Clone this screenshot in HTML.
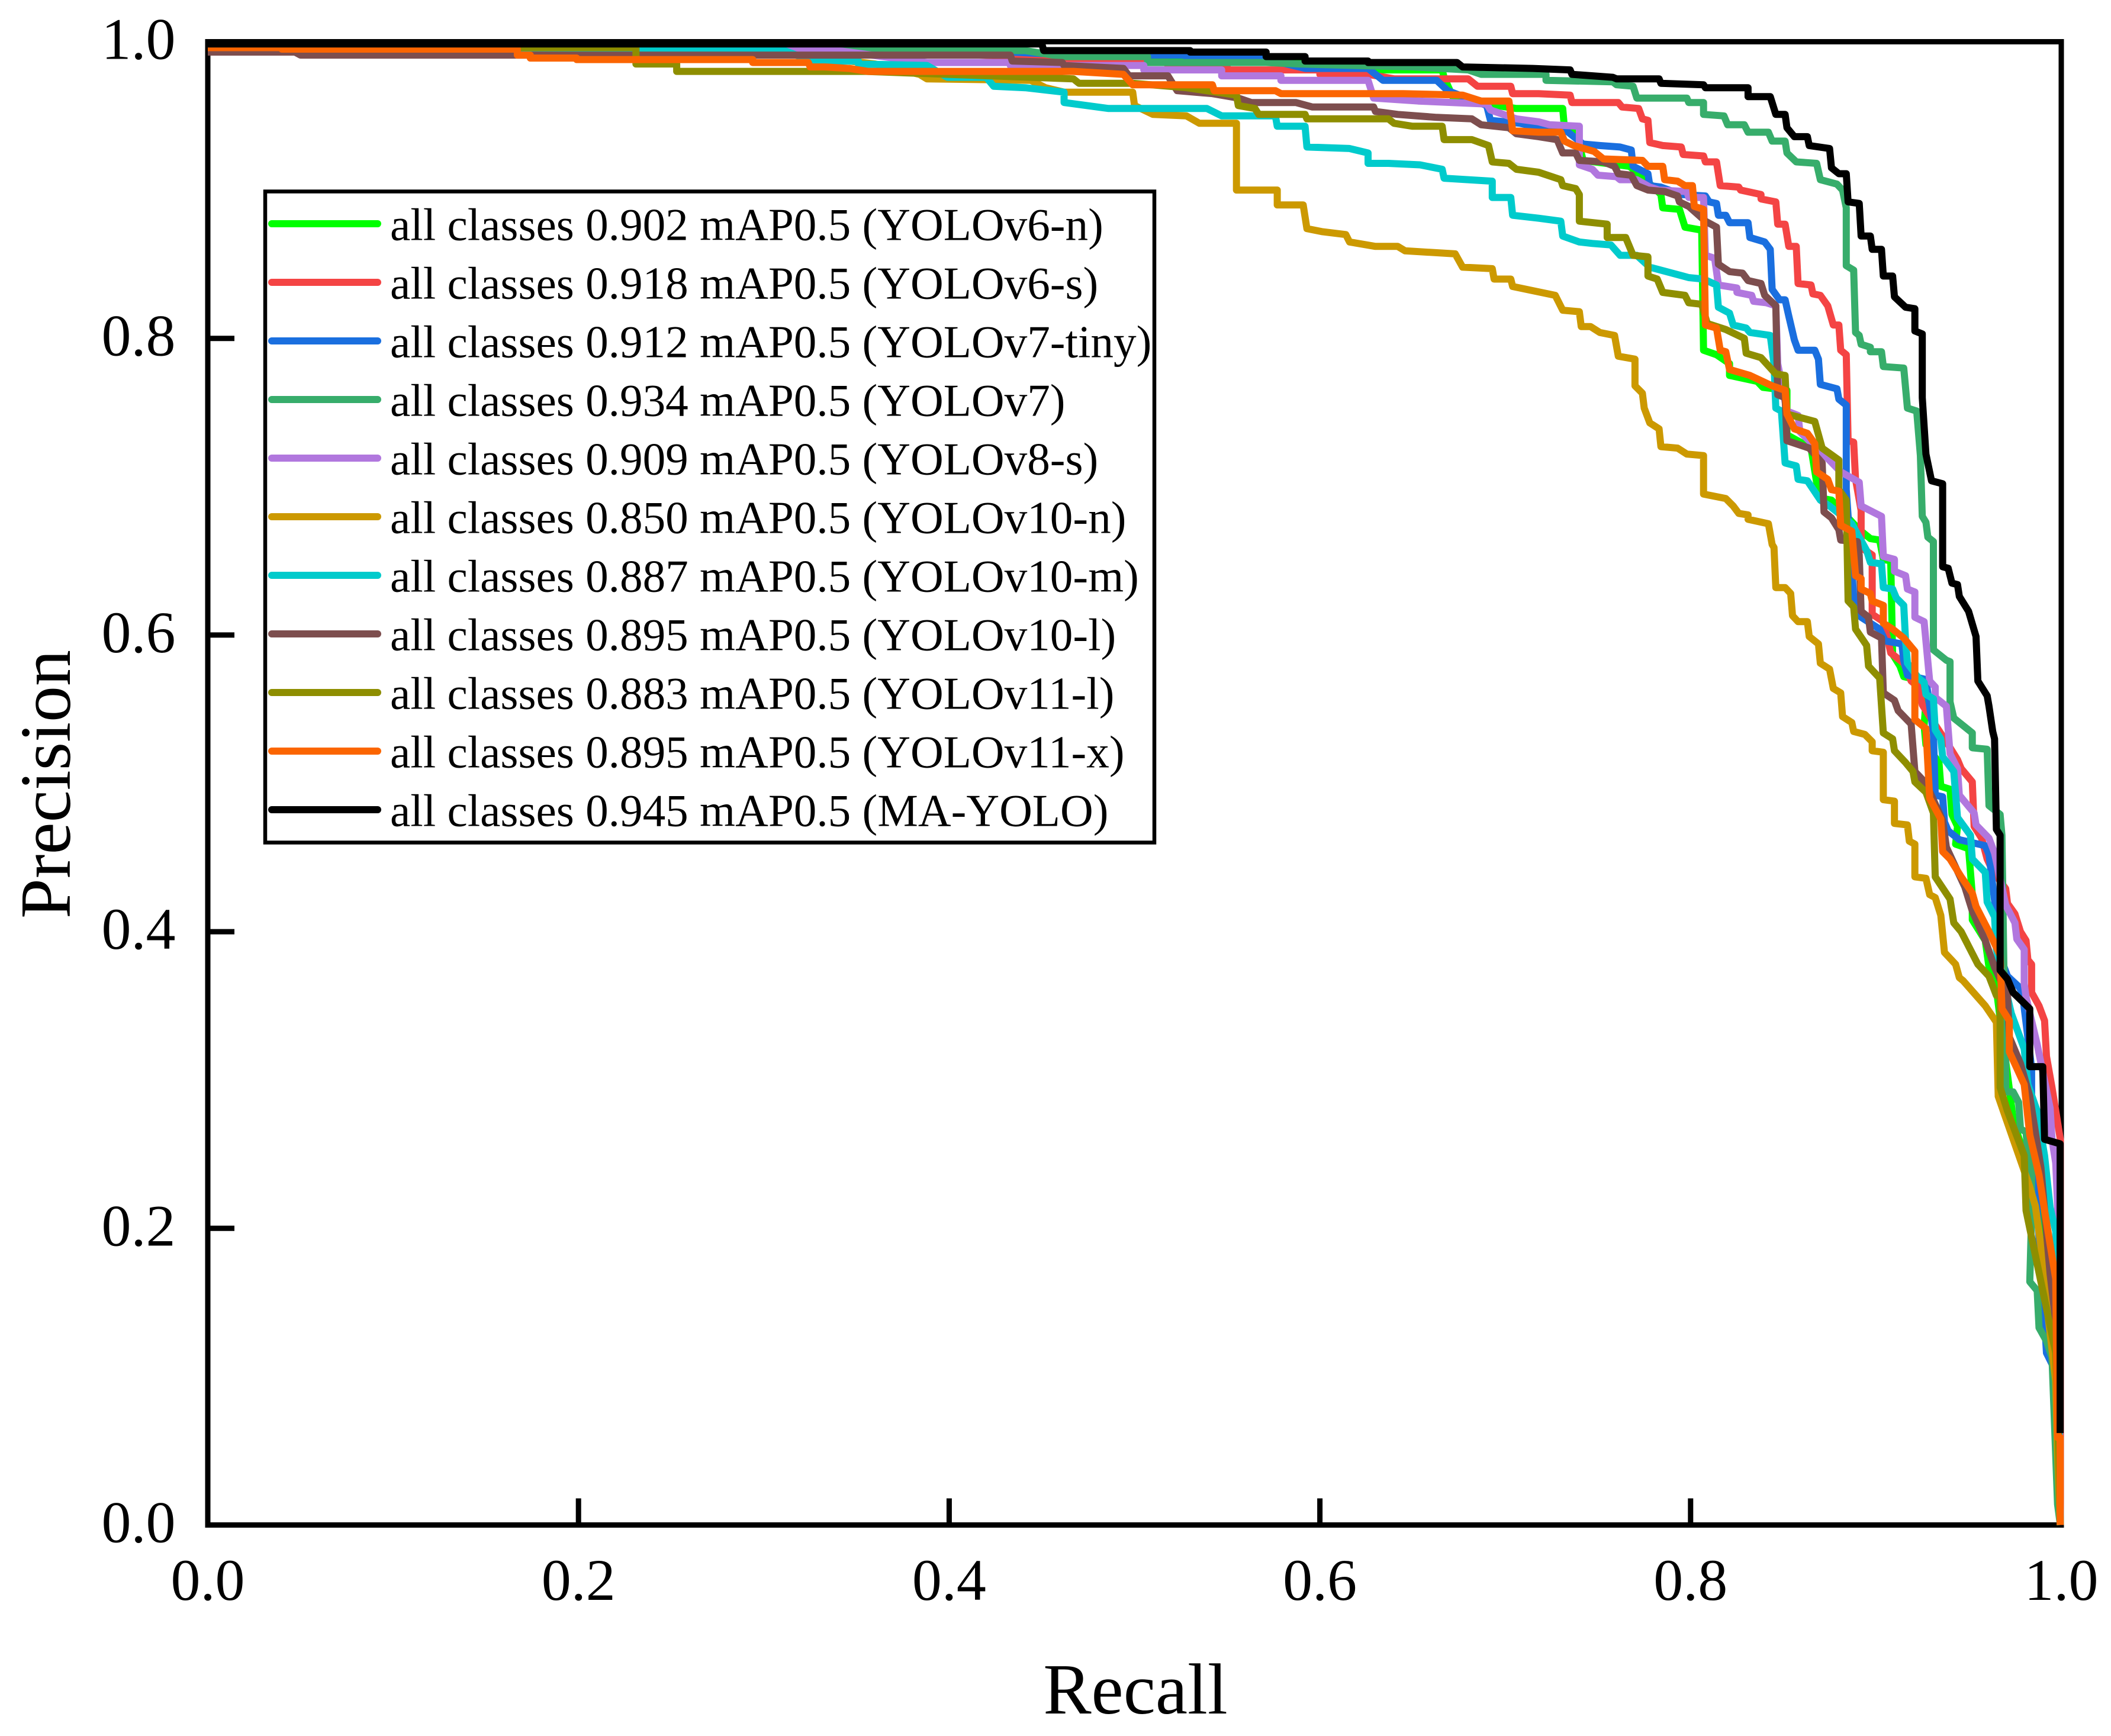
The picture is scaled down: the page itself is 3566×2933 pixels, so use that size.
<!DOCTYPE html>
<html lang="en">
<head>
<meta charset="utf-8">
<title>Precision-Recall curves</title>
<style>
html,body{margin:0;padding:0;background:#fff;width:3566px;height:2933px;overflow:hidden}
svg{display:block}
text{font-family:"Liberation Serif",serif;fill:#000}
.leg{font-size:77.2px}
.tick{font-size:100px}
.title{font-size:122px}
</style>
</head>
<body>
<svg id="chart" xmlns="http://www.w3.org/2000/svg" width="3566" height="2933" viewBox="0 0 3566 2933">
  <rect x="0" y="0" width="3566" height="2933" fill="#fff"/>
  <g id="ticks"></g>
  <rect x="351" y="70.5" width="3131" height="2506" fill="none" stroke="#000" stroke-width="9"/>
  <g id="series"></g>
  <g id="ticklabels"></g>
  <text class="title" x="1918" y="2895" text-anchor="middle">Recall</text>
  <text class="title" transform="translate(118 1325) rotate(-90)" text-anchor="middle">Precision</text>
  <g>
    <rect x="448" y="323.5" width="1502" height="1100" fill="#fff" stroke="#000" stroke-width="6.5"/>
    <g><line x1="459" x2="638" y1="378" y2="378" stroke="#00FF00" stroke-width="12" stroke-linecap="round"/><text class="leg" x="659" y="405.5">all classes 0.902 mAP0.5 (YOLOv6-n)</text></g>
    <g><line x1="459" x2="638" y1="477" y2="477" stroke="#F44444" stroke-width="12" stroke-linecap="round"/><text class="leg" x="659" y="504.5">all classes 0.918 mAP0.5 (YOLOv6-s)</text></g>
    <g><line x1="459" x2="638" y1="576" y2="576" stroke="#1A6FDF" stroke-width="12" stroke-linecap="round"/><text class="leg" x="659" y="603.5">all classes 0.912 mAP0.5 (YOLOv7-tiny)</text></g>
    <g><line x1="459" x2="638" y1="675" y2="675" stroke="#37AD6B" stroke-width="12" stroke-linecap="round"/><text class="leg" x="659" y="702.5">all classes 0.934 mAP0.5 (YOLOv7)</text></g>
    <g><line x1="459" x2="638" y1="774" y2="774" stroke="#B177DE" stroke-width="12" stroke-linecap="round"/><text class="leg" x="659" y="801.5">all classes 0.909 mAP0.5 (YOLOv8-s)</text></g>
    <g><line x1="459" x2="638" y1="873" y2="873" stroke="#CC9900" stroke-width="12" stroke-linecap="round"/><text class="leg" x="659" y="900.5">all classes 0.850 mAP0.5 (YOLOv10-n)</text></g>
    <g><line x1="459" x2="638" y1="972" y2="972" stroke="#00CBCC" stroke-width="12" stroke-linecap="round"/><text class="leg" x="659" y="999.5">all classes 0.887 mAP0.5 (YOLOv10-m)</text></g>
    <g><line x1="459" x2="638" y1="1071" y2="1071" stroke="#7D4E4E" stroke-width="12" stroke-linecap="round"/><text class="leg" x="659" y="1098.5">all classes 0.895 mAP0.5 (YOLOv10-l)</text></g>
    <g><line x1="459" x2="638" y1="1170" y2="1170" stroke="#8E8E00" stroke-width="12" stroke-linecap="round"/><text class="leg" x="659" y="1197.5">all classes 0.883 mAP0.5 (YOLOv11-l)</text></g>
    <g><line x1="459" x2="638" y1="1269" y2="1269" stroke="#FB6501" stroke-width="12" stroke-linecap="round"/><text class="leg" x="659" y="1296.5">all classes 0.895 mAP0.5 (YOLOv11-x)</text></g>
    <g><line x1="459" x2="638" y1="1368" y2="1368" stroke="#000" stroke-width="12" stroke-linecap="round"/><text class="leg" x="659" y="1395.5">all classes 0.945 mAP0.5 (MA-YOLO)</text></g>
  </g>
</svg>
<script>
const tickValues = [0, 0.2, 0.4, 0.6, 0.8, 1];
const tickLabels = ["0.0", "0.2", "0.4", "0.6", "0.8", "1.0"];

const recallV6n = [0,.124,.155,.31,.357,.383,.48,.55,.60,.616,.629,.666,.667,.672,.69,.706,.731,.732,.738,.742,.767,.774,.784,.785,.794,.797,.806,.807,.814,.821,.821,.836,.839,.852,.852,.865,.868,.871,.876,.891,.897,.902,.904,.908,.909,.913,.915,.922,.927,.926,.927,.934,.935,.940,.941,.944,.943,.950,.952,.952,.959,.961,.965,.973,.974,.986,.992,.997,.998,.9995];
const precisionV6n = [.998,.998,.998,.996,.994,.994,.990,.987,.985,.983,.981,.981,.976,.962,.958,.955,.955,.941,.941,.920,.916,.909,.897,.888,.887,.875,.873,.792,.789,.783,.775,.771,.767,.765,.735,.726,.703,.692,.691,.671,.665,.664,.651,.650,.587,.579,.572,.570,.555,.539,.526,.514,.498,.496,.479,.471,.459,.456,.425,.408,.394,.376,.361,.284,.273,.226,.193,.156,.10,0];

const recallV6s = [0,.04,.057,.167,.223,.223,.253,.253,.306,.338,.358,.36,.436,.46,.46,.518,.518,.55,.55,.6,.6,.626,.64,.68,.685,.703,.704,.718,.735,.736,.761,.763,.772,.774,.777,.778,.785,.795,.796,.807,.808,.814,.816,.826,.827,.838,.838,.846,.847,.851,.853,.857,.858,.865,.866,.870,.874,.877,.880,.881,.884,.885,.888,.889,.892,.892,.892,.898,.898,.898,.904,.906,.908,.915,.919,.923,.925,.928,.938,.944,.946,.952,.953,.957,.960,.963,.970,.971,.975,.978,.981,.982,.984,.984,.988,.991,.992,.995,.9995,.9995];
const precisionV6s = [.997,.997,.998,.994,.994,.993,.993,.992,.992,.994,.994,.994,.990,.990,.986,.986,.983,.983,.981,.981,.978,.978,.975,.975,.970,.970,.965,.965,.964,.959,.959,.956,.955,.948,.947,.932,.930,.929,.924,.923,.919,.919,.903,.902,.900,.897,.894,.892,.877,.877,.862,.862,.837,.836,.830,.829,.822,.809,.809,.792,.789,.731,.730,.705,.684,.669,.659,.654,.628,.614,.609,.599,.588,.581,.569,.565,.553,.547,.528,.516,.510,.501,.471,.463,.449,.441,.429,.419,.412,.400,.394,.381,.378,.359,.350,.340,.316,.295,.26,0];

const recallV7t = [0,.2,.383,.417,.45,.505,.528,.528,.569,.592,.626,.634,.663,.669,.690,.692,.708,.718,.732,.742,.751,.762,.768,.769,.777,.778,.784,.795,.808,.810,.814,.815,.819,.821,.831,.832,.840,.843,.844,.848,.851,.853,.856,.858,.867,.869,.870,.879,.880,.884,.884,.887,.888,.892,.902,.905,.914,.915,.917,.927,.931,.932,.936,.937,.939,.945,.959,.961,.968,.971,.977,.979,.984,.984,.983,.986,.991,.992,.996,.9995];
const precisionV7t = [.998,.997,.994,.994,.992,.991,.991,.989,.989,.982,.982,.974,.974,.967,.957,.947,.945,.942,.941,.931,.930,.929,.927,.916,.911,.903,.902,.897,.896,.892,.891,.883,.883,.878,.878,.868,.865,.860,.833,.826,.826,.815,.799,.792,.792,.786,.769,.766,.759,.755,.698,.644,.626,.612,.604,.596,.594,.583,.573,.570,.534,.492,.491,.474,.468,.462,.458,.452,.380,.370,.363,.359,.308,.289,.255,.231,.137,.116,.106,0];

const recallV7 = [0,.2,.35,.42,.441,.461,.507,.507,.571,.589,.65,.68,.687,.722,.722,.758,.760,.769,.771,.798,.799,.807,.807,.818,.820,.829,.831,.842,.844,.851,.852,.857,.868,.870,.879,.882,.884,.884,.888,.889,.891,.892,.897,.897,.903,.904,.915,.917,.922,.924,.925,.927,.928,.931,.931,.938,.940,.940,.942,.952,.952,.960,.961,.967,.968,.969,.970,.970,.974,.977,.978,.981,.982,.984,.984,.983,.987,.988,.992,.995,.998,.9995];
const precisionV7 = [.998,.997,.996,.994,.994,.990,.990,.986,.986,.985,.983,.981,.978,.978,.974,.973,.971,.970,.962,.962,.959,.959,.951,.950,.944,.944,.939,.939,.933,.933,.925,.919,.918,.907,.904,.900,.888,.849,.846,.804,.802,.796,.794,.791,.791,.781,.780,.753,.751,.721,.680,.676,.666,.663,.590,.583,.582,.555,.544,.534,.524,.523,.485,.479,.465,.380,.319,.292,.292,.285,.267,.265,.249,.246,.210,.164,.158,.133,.124,.113,.014,0];

const recallV8s = [0,.2,.309,.34,.388,.433,.433,.505,.505,.547,.547,.579,.579,.626,.629,.653,.690,.692,.706,.718,.724,.740,.740,.747,.750,.760,.762,.771,.778,.783,.798,.799,.807,.808,.813,.815,.825,.825,.833,.834,.841,.846,.847,.852,.858,.859,.874,.881,.891,.892,.903,.904,.910,.910,.916,.917,.921,.921,.926,.929,.932,.932,.938,.940,.944,.945,.953,.954,.961,.964,.970,.975,.976,.980,.980,.981,.987,.994,.995,.997,.998,.9995];
const precisionV8s = [.997,.996,.994,.994,.986,.986,.984,.984,.981,.981,.977,.977,.974,.974,.962,.960,.958,.954,.948,.946,.944,.943,.917,.914,.910,.909,.907,.907,.902,.900,.899,.895,.895,.856,.854,.836,.834,.831,.829,.825,.824,.822,.783,.751,.748,.737,.719,.710,.703,.687,.680,.653,.651,.643,.640,.631,.629,.612,.609,.569,.565,.558,.552,.520,.510,.492,.480,.472,.463,.453,.418,.406,.395,.388,.365,.356,.324,.281,.260,.244,.217,0];

const recallV10n = [0,.189,.23,.253,.31,.36,.384,.388,.444,.452,.462,.499,.5,.510,.528,.535,.555,.555,.577,.577,.591,.593,.601,.614,.616,.630,.642,.646,.673,.677,.693,.694,.703,.704,.727,.731,.740,.741,.746,.751,.759,.761,.770,.770,.774,.775,.778,.783,.784,.793,.798,.807,.807,.819,.823,.826,.831,.831,.842,.844,.845,.846,.851,.854,.855,.858,.863,.864,.869,.870,.875,.877,.881,.882,.887,.888,.894,.898,.898,.904,.904,.910,.910,.917,.918,.921,.921,.927,.929,.932,.935,.937,.943,.945,.947,.959,.965,.966,.971,.983,.986,.989,.991,.997,.998,.9995];
const precisionV10n = [.997,.997,.996,.996,.992,.985,.978,.975,.974,.969,.966,.966,.957,.951,.950,.945,.945,.900,.900,.890,.890,.874,.872,.870,.865,.862,.862,.859,.857,.848,.847,.840,.840,.835,.829,.819,.818,.808,.808,.804,.802,.788,.786,.768,.763,.753,.743,.739,.727,.726,.722,.721,.695,.692,.687,.682,.681,.678,.675,.661,.659,.632,.632,.628,.613,.609,.609,.599,.594,.581,.577,.564,.561,.545,.541,.535,.533,.528,.522,.521,.489,.488,.473,.472,.461,.459,.437,.436,.425,.423,.411,.386,.378,.369,.367,.350,.339,.289,.271,.228,.215,.188,.161,.097,.049,0];

const recallV10m = [0,.15,.262,.309,.326,.351,.351,.388,.399,.42,.424,.441,.462,.462,.486,.539,.547,.576,.577,.592,.593,.616,.626,.626,.637,.654,.666,.667,.693,.693,.703,.704,.718,.730,.731,.740,.747,.757,.762,.771,.778,.787,.796,.799,.807,.814,.815,.821,.823,.830,.832,.843,.845,.846,.849,.851,.857,.858,.863,.870,.875,.887,.891,.895,.897,.903,.904,.909,.911,.915,.916,.917,.923,.926,.927,.931,.932,.935,.936,.942,.944,.951,.952,.959,.960,.964,.965,.973,.980,.982,.987,.991,.994,.997,.998,.9995];
const precisionV10m = [.996,.996,.995,.995,.987,.987,.985,.984,.976,.976,.970,.969,.966,.959,.955,.955,.950,.950,.943,.943,.929,.928,.925,.918,.918,.917,.914,.908,.906,.895,.895,.883,.881,.879,.869,.865,.864,.863,.856,.856,.848,.845,.842,.841,.840,.836,.821,.817,.809,.807,.804,.802,.783,.753,.751,.716,.714,.705,.704,.691,.687,.675,.666,.657,.649,.648,.632,.631,.625,.620,.596,.581,.571,.568,.560,.557,.536,.530,.518,.508,.477,.465,.449,.440,.420,.410,.388,.345,.321,.297,.279,.249,.214,.198,.156,0];

const recallV10l = [0,.047,.05,.294,.302,.433,.434,.461,.462,.494,.497,.518,.523,.542,.556,.563,.587,.596,.629,.630,.642,.663,.682,.687,.702,.706,.718,.728,.731,.738,.740,.753,.759,.761,.768,.771,.777,.786,.793,.794,.799,.808,.814,.815,.821,.828,.831,.838,.840,.846,.847,.851,.852,.864,.871,.872,.876,.880,.881,.890,.891,.892,.896,.897,.903,.904,.910,.912,.919,.921,.927,.936,.938,.948,.952,.959,.964,.971,.972,.978,.983,.989,.994,.997,.998,.9995];
const precisionV10l = [.993,.993,.991,.991,.991,.991,.987,.986,.984,.982,.977,.977,.967,.965,.962,.959,.959,.956,.956,.953,.951,.949,.948,.944,.942,.938,.936,.934,.925,.925,.920,.919,.916,.911,.910,.903,.900,.899,.896,.892,.889,.879,.875,.850,.845,.844,.839,.837,.829,.822,.762,.760,.731,.726,.716,.683,.679,.671,.664,.663,.654,.616,.612,.602,.598,.561,.556,.549,.540,.508,.500,.475,.457,.430,.414,.394,.376,.357,.329,.311,.289,.241,.169,.137,.10,0];

const recallV11l = [0,.189,.231,.231,.253,.253,.355,.467,.470,.499,.528,.555,.556,.565,.567,.592,.593,.637,.640,.650,.666,.667,.682,.691,.693,.702,.706,.718,.730,.731,.738,.740,.740,.755,.755,.765,.769,.777,.777,.782,.785,.797,.799,.806,.809,.819,.829,.830,.838,.846,.851,.852,.867,.871,.880,.880,.884,.885,.888,.889,.895,.896,.902,.904,.909,.910,.916,.920,.921,.927,.931,.932,.940,.942,.946,.955,.961,.965,.967,.967,.971,.980,.981,.986,.997,.998,.9995];
const precisionV11l = [.996,.996,.996,.985,.985,.980,.980,.975,.972,.972,.969,.964,.957,.955,.951,.951,.948,.948,.945,.943,.943,.934,.934,.930,.919,.918,.914,.912,.907,.903,.901,.897,.879,.877,.868,.868,.856,.855,.842,.840,.831,.829,.824,.823,.810,.806,.800,.790,.787,.776,.775,.749,.744,.726,.718,.698,.691,.623,.619,.604,.593,.579,.571,.534,.530,.522,.514,.508,.501,.494,.480,.437,.422,.406,.400,.378,.370,.357,.356,.295,.279,.249,.212,.182,.116,.076,0];

const recallV11x = [0,.04,.04,.167,.167,.174,.174,.199,.199,.294,.294,.324,.325,.333,.346,.356,.467,.494,.499,.542,.543,.576,.579,.645,.677,.687,.702,.704,.718,.730,.732,.737,.748,.753,.774,.777,.785,.786,.793,.797,.801,.802,.807,.808,.814,.816,.819,.821,.832,.844,.851,.852,.856,.863,.867,.868,.874,.876,.880,.881,.887,.889,.892,.892,.897,.898,.904,.904,.909,.915,.921,.921,.927,.929,.935,.936,.940,.946,.952,.954,.961,.967,.968,.972,.972,.980,.983,.988,.991,.997,.998,.9994,.9994];
const precisionV11x = [.996,.996,.995,.995,.991,.991,.989,.989,.988,.988,.986,.986,.983,.983,.982,.980,.980,.978,.971,.971,.967,.967,.965,.965,.964,.960,.960,.940,.939,.939,.933,.930,.926,.921,.920,.916,.916,.907,.906,.903,.903,.889,.887,.809,.807,.792,.791,.779,.775,.768,.765,.749,.739,.736,.729,.710,.705,.698,.697,.674,.670,.640,.638,.631,.628,.623,.620,.608,.604,.598,.589,.543,.537,.490,.476,.454,.449,.437,.426,.417,.400,.384,.348,.340,.319,.297,.263,.236,.212,.166,.059,.059,0];

const recallMA = [0,.45,.451,.53,.53,.571,.571,.592,.592,.626,.626,.674,.677,.715,.735,.736,.758,.760,.783,.784,.807,.808,.831,.831,.843,.846,.851,.852,.856,.863,.864,.875,.876,.880,.884,.885,.891,.892,.897,.898,.903,.904,.909,.910,.916,.921,.921,.925,.925,.927,.930,.936,.936,.939,.941,.944,.945,.950,.954,.955,.960,.961,.963,.964,.965,.967,.967,.971,.974,.979,.983,.983,.990,.991,.9994,.9994];
const precisionMA = [.9985,.9985,.994,.994,.993,.993,.990,.990,.987,.987,.986,.986,.983,.982,.981,.978,.976,.975,.975,.972,.971,.969,.969,.963,.963,.951,.951,.942,.936,.936,.930,.928,.915,.911,.911,.892,.891,.869,.869,.860,.860,.842,.842,.828,.821,.820,.805,.803,.760,.722,.704,.702,.646,.645,.635,.634,.626,.616,.599,.569,.559,.552,.535,.530,.469,.465,.374,.368,.359,.353,.348,.309,.309,.260,.257,.062];

const seriesNames = ["YOLOv6-n","YOLOv6-s","YOLOv7-tiny","YOLOv7","YOLOv8-s","YOLOv10-n","YOLOv10-m","YOLOv10-l","YOLOv11-l","YOLOv11-x","MA-YOLO"];
const seriesRecall = [recallV6n,recallV6s,recallV7t,recallV7,recallV8s,recallV10n,recallV10m,recallV10l,recallV11l,recallV11x,recallMA];
const seriesPrecision = [precisionV6n,precisionV6s,precisionV7t,precisionV7,precisionV8s,precisionV10n,precisionV10m,precisionV10l,precisionV11l,precisionV11x,precisionMA];
const seriesColors = ["#00FF00","#F44444","#1A6FDF","#37AD6B","#B177DE","#CC9900","#00CBCC","#7D4E4E","#8E8E00","#FB6501","#000000"];

const NS = "http://www.w3.org/2000/svg";
function xScale(v){ return 351 + v * 3131; }
function yScale(v){ return 2576.5 - v * 2506; }

const seriesGroup = document.getElementById("series");
seriesNames.forEach(function(name, i){
  const pts = seriesRecall[i].map(function(r, k){
    return xScale(r).toFixed(1) + "," + yScale(seriesPrecision[i][k]).toFixed(1);
  }).join(" ");
  const line = document.createElementNS(NS, "polyline");
  line.setAttribute("points", pts);
  line.setAttribute("fill", "none");
  line.setAttribute("stroke", seriesColors[i]);
  line.setAttribute("stroke-width", "12");
  line.setAttribute("stroke-linejoin", "round");
  
  
  seriesGroup.appendChild(line);
});

const tickGroup = document.getElementById("ticks");
const labelGroup = document.getElementById("ticklabels");
tickValues.forEach(function(v, i){
  if (v > 0 && v < 1) {
    const tx = document.createElementNS(NS, "line");
    tx.setAttribute("x1", xScale(v));
    tx.setAttribute("x2", xScale(v));
    tx.setAttribute("y1", yScale(0));
    tx.setAttribute("y2", yScale(0) - 45);
    tx.setAttribute("stroke", "#000");
    tx.setAttribute("stroke-width", "9");
    
    
    tickGroup.appendChild(tx);
    const ty = document.createElementNS(NS, "line");
    ty.setAttribute("x1", xScale(0));
    ty.setAttribute("x2", xScale(0) + 45);
    ty.setAttribute("y1", yScale(v));
    ty.setAttribute("y2", yScale(v));
    ty.setAttribute("stroke", "#000");
    ty.setAttribute("stroke-width", "9");
    
    
    tickGroup.appendChild(ty);
  }
  const lx = document.createElementNS(NS, "text");
  lx.setAttribute("class", "tick");
  lx.setAttribute("x", xScale(v));
  lx.setAttribute("y", 2703);
  lx.setAttribute("text-anchor", "middle");
  
  
  lx.textContent = tickLabels[i];
  labelGroup.appendChild(lx);
  const ly = document.createElementNS(NS, "text");
  ly.setAttribute("class", "tick");
  ly.setAttribute("x", 296.5);
  ly.setAttribute("y", yScale(v) + 29);
  ly.setAttribute("text-anchor", "end");
  
  
  ly.textContent = tickLabels[i];
  labelGroup.appendChild(ly);
});
</script>
</body>
</html>
